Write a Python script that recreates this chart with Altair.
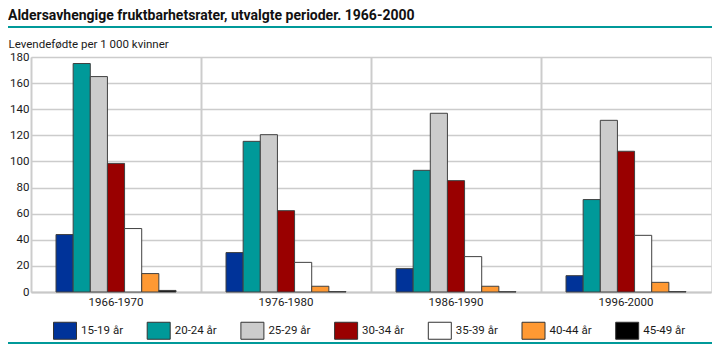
import altair as alt
import pandas as pd

periods = ["1966-1970", "1976-1980", "1986-1990", "1996-2000"]
ages = ["15-19 år", "20-24 år", "25-29 år", "30-34 år", "35-39 år", "40-44 år", "45-49 år"]
v1966 = [44.0, 175.0, 165.0, 98.5, 48.6, 14.1, 1.2]
v1976 = [30.2, 115.4, 120.5, 62.3, 22.7, 4.4, 0.3]
v1986 = [17.9, 93.2, 136.9, 85.3, 27.1, 4.4, 0.2]
v1996 = [12.5, 70.8, 131.5, 107.8, 43.4, 7.4, 0.3]
colors = ["#003399", "#009999", "#CCCCCC", "#990000", "#FFFFFF", "#FF9933", "#000000"]
title_text = "Aldersavhengige fruktbarhetsrater, utvalgte perioder. 1966-2000"
ytitle = "Levendefødte per 1 000 kvinner"

rows = []
for p, vals in zip(periods, [v1966, v1976, v1986, v1996]):
    for a, v in zip(ages, vals):
        rows.append({"period": p, "age": a, "value": v})
df = pd.DataFrame(rows)

FONT = "Roboto"
FS = 11.5
TXT = "#1a1a1a"

bars = alt.Chart(df).mark_bar(stroke="#404040", strokeWidth=1).encode(
    x=alt.X("period:N", sort=periods, title=None,
            scale=alt.Scale(paddingInner=0, paddingOuter=0),
            axis=alt.Axis(labelAngle=0, grid=True, bandPosition=0, gridColor="#cccccc",
                          gridWidth=2, ticks=False, domain=True, domainColor="#c8c8c8",
                          domainWidth=2, labelFontSize=FS, labelPadding=4,
                          labelColor=TXT, labelFont=FONT)),
    xOffset=alt.XOffset("age:N", sort=ages,
                        scale=alt.Scale(range=[25, 145], paddingInner=0, paddingOuter=0)),
    y=alt.Y("value:Q", scale=alt.Scale(domain=[0, 180], nice=False),
            axis=alt.Axis(values=list(range(0, 181, 20)), title=ytitle, titleAngle=0,
                          titleX=-23, titleY=-10, titleAlign="left", titleBaseline="alphabetic",
                          titleFontWeight="normal", titleFontSize=FS, titleFont=FONT,
                          titleColor=TXT,
                          gridColor="#cccccc", gridWidth=1.3, ticks=False, domain=False,
                          labelFontSize=FS, labelPadding=2, labelColor=TXT,
                          labelFont=FONT)),
    color=alt.Color("age:N", sort=ages, scale=alt.Scale(domain=ages, range=colors),
                    legend=alt.Legend(title=None, orient="none", legendX=25, legendY=264.5,
                                      direction="horizontal", columns=7, gridAlign="all",
                                      symbolType="M-1.353,-1L1.353,-1L1.353,1L-1.353,1Z",
                                      symbolSize=289, symbolStrokeColor="#333333",
                                      symbolStrokeWidth=1, labelOffset=7, columnPadding=20.7,
                                      labelFontSize=FS, labelFont=FONT, labelColor=TXT,
                                      padding=0)),
)

one = pd.DataFrame({"a": [0]})
title_mark = alt.Chart(one).mark_text(align="left", baseline="alphabetic", fontWeight="bold",
                                      fontSize=14, font=FONT, color="#111111").encode(
    x=alt.value(-23), y=alt.value(-37), text=alt.value(title_text))
rule_top = alt.Chart(one).mark_rule(color="#009999", strokeWidth=2).encode(
    x=alt.value(-23), x2=alt.value(681), y=alt.value(-30))
rule_bot = alt.Chart(one).mark_rule(color="#009999", strokeWidth=2).encode(
    x=alt.value(-23), x2=alt.value(681), y=alt.value(286))

chart = alt.layer(bars, title_mark, rule_top, rule_bot).properties(
    width=680, height=235,
    autosize=alt.AutoSizeParams(type="none"),
    padding={"left": 23, "top": 49, "right": 1, "bottom": 52},
).configure_view(stroke="#cccccc", strokeWidth=2).configure(background="white")

chart.save("out.html", embed_options={"renderer": "svg", "actions": False})
